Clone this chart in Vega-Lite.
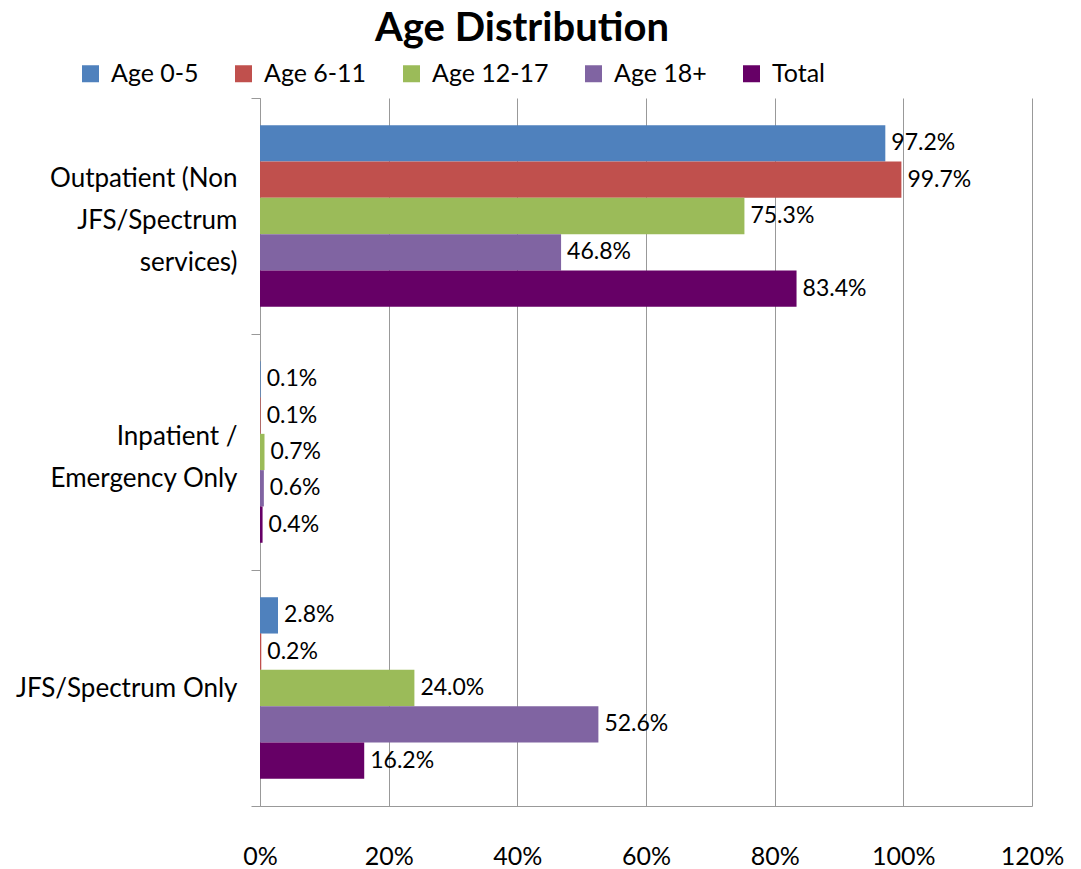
{
  "$schema": "https://vega.github.io/schema/vega-lite/v6.json",
  "width": 772,
  "height": 708,
  "autosize": {"type": "none"},
  "padding": {"left": 260, "top": 98, "right": 49, "bottom": 63},
  "title": {
    "text": "Age Distribution",
    "font": "Lato",
    "fontSize": 40,
    "fontWeight": "bold",
    "color": "#000000",
    "anchor": "middle",
    "frame": "group",
    "dx": -124,
    "offset": 12
  },
  "data": {
    "values": [
      {"category": "Outpatient (Non|JFS/Spectrum|services)", "series": "Age 0-5", "value": 0.972},
      {"category": "Outpatient (Non|JFS/Spectrum|services)", "series": "Age 6-11", "value": 0.997},
      {"category": "Outpatient (Non|JFS/Spectrum|services)", "series": "Age 12-17", "value": 0.753},
      {"category": "Outpatient (Non|JFS/Spectrum|services)", "series": "Age 18+", "value": 0.468},
      {"category": "Outpatient (Non|JFS/Spectrum|services)", "series": "Total", "value": 0.834},
      {"category": "Inpatient /|Emergency Only", "series": "Age 0-5", "value": 0.001},
      {"category": "Inpatient /|Emergency Only", "series": "Age 6-11", "value": 0.001},
      {"category": "Inpatient /|Emergency Only", "series": "Age 12-17", "value": 0.007},
      {"category": "Inpatient /|Emergency Only", "series": "Age 18+", "value": 0.006},
      {"category": "Inpatient /|Emergency Only", "series": "Total", "value": 0.004},
      {"category": "JFS/Spectrum Only", "series": "Age 0-5", "value": 0.028},
      {"category": "JFS/Spectrum Only", "series": "Age 6-11", "value": 0.002},
      {"category": "JFS/Spectrum Only", "series": "Age 12-17", "value": 0.240},
      {"category": "JFS/Spectrum Only", "series": "Age 18+", "value": 0.526},
      {"category": "JFS/Spectrum Only", "series": "Total", "value": 0.162}
    ]
  },
  "encoding": {
    "y": {
      "field": "category",
      "type": "nominal",
      "sort": ["Outpatient (Non|JFS/Spectrum|services)", "Inpatient /|Emergency Only", "JFS/Spectrum Only"],
      "scale": {"paddingInner": 0, "paddingOuter": 0},
      "axis": {
        "title": null,
        "labelExpr": "split(datum.label, '|')",
        "labelFont": "Lato",
        "labelFontSize": 26,
        "labelColor": "#000000",
        "labelLineHeight": 42,
        "labelPadding": 14,
        "labelLimit": 300,
        "labelOffset": {
          "condition": [
            {"test": "datum.value == 'Outpatient (Non|JFS/Spectrum|services)'", "value": -38},
            {"test": "datum.value == 'Inpatient /|Emergency Only'", "value": -16}
          ],
          "value": 0
        },
        "tickBand": "extent",
        "tickSize": 9,
        "tickColor": "#999999",
        "domainColor": "#999999",
        "grid": false
      }
    },
    "yOffset": {
      "field": "series",
      "type": "nominal",
      "sort": ["Age 0-5", "Age 6-11", "Age 12-17", "Age 18+", "Total"],
      "scale": {"paddingInner": 0, "paddingOuter": 0.75}
    },
    "x": {
      "field": "value",
      "type": "quantitative",
      "scale": {"domain": [0, 1.2], "nice": false},
      "axis": {
        "title": null,
        "values": [0, 0.2, 0.4, 0.6, 0.8, 1.0, 1.2],
        "format": ".0%",
        "labelFont": "Lato",
        "labelFontSize": 25,
        "labelColor": "#000000",
        "labelPadding": 38,
        "ticks": false,
        "grid": true,
        "gridColor": "#999999",
        "domainColor": "#999999",
        "labelFlush": false
      }
    }
  },
  "layer": [
    {
      "mark": {"type": "bar"},
      "encoding": {
        "color": {
          "field": "series",
          "type": "nominal",
          "sort": ["Age 0-5", "Age 6-11", "Age 12-17", "Age 18+", "Total"],
          "scale": {
            "domain": ["Age 0-5", "Age 6-11", "Age 12-17", "Age 18+", "Total"],
            "range": ["#4F81BD", "#C0504D", "#9BBB59", "#8064A2", "#660066"]
          },
          "legend": {
            "title": null,
            "orient": "none",
            "direction": "horizontal",
            "legendX": -182,
            "legendY": -37,
            "symbolType": "square",
            "symbolSize": 289,
            "symbolStrokeWidth": 0,
            "symbolOpacity": 1,
            "labelFont": "Lato",
            "labelFontSize": 25,
            "labelColor": "#000000",
            "labelOffset": 8,
            "columnPadding": 32,
            "padding": 0,
            "labelLimit": 300
          }
        }
      }
    },
    {
      "mark": {"type": "text", "align": "left", "baseline": "middle", "dx": 6, "font": "Lato", "fontSize": 23, "color": "#000000"},
      "encoding": {
        "text": {"field": "value", "type": "quantitative", "format": ".1%"}
      }
    }
  ],
  "config": {
    "view": {"stroke": null},
    "background": "#ffffff"
  }
}
